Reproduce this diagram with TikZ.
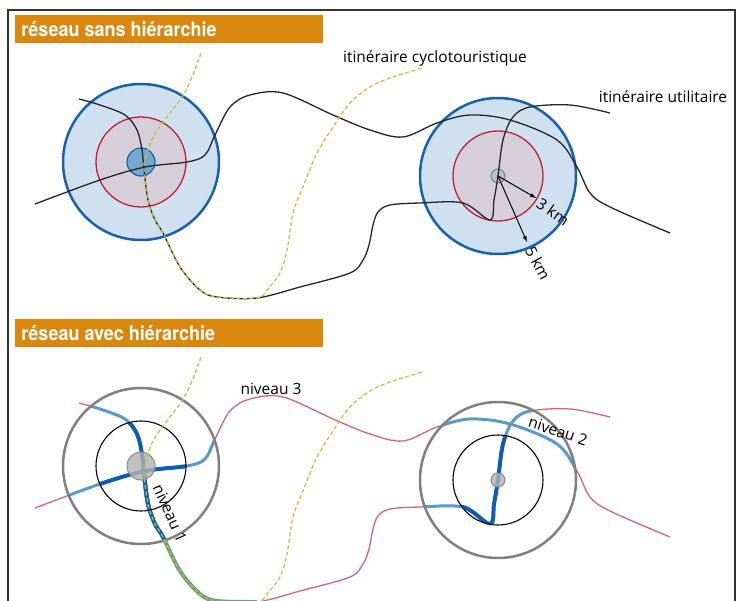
\documentclass[tikz,border=0pt]{standalone}
\usepackage{fontspec}
\setmainfont{Open Sans}
\newfontfamily\titelfont[FakeStretch=0.9]{TeX Gyre Heros}
\begin{document}
\begin{tikzpicture}[x=1pt,y=-1pt,>=latex,thick,
	titeltext/.style={anchor=west,text=white,inner sep=3pt,font=\titelfont\bfseries\fontsize{20}{20}\selectfont},
	beschriftung/.style={font=\fontsize{15.5}{16}\selectfont,inner sep=1pt},
	utilweg/.style={line width=1.3pt,black!85},
	radweg/.style={gelbgruen,line width=1.2pt,dash pattern=on 4pt off 2.5pt},
	stufedrei/.style={rosa,line width=1.3pt},
	stufezwei/.style={mittelblau,line width=3pt},
	stufeeins/.style={kraeftigblau,line width=4pt},
	gruenweg/.style={tuerkis,line width=4pt}]
\useasboundingbox (0,0) rectangle (739,601);

\definecolor{ocker}{rgb}{0.85,0.53,0.05}
\definecolor{dunkelblau}{rgb}{0.09,0.39,0.67}
\definecolor{hellblau}{rgb}{0.81,0.88,0.94}
\definecolor{rot}{rgb}{0.75,0.13,0.2}
\definecolor{mauve}{rgb}{0.84,0.81,0.85}
\definecolor{gelbgruen}{rgb}{0.72,0.77,0.23}
\definecolor{rosa}{rgb}{0.82,0.4,0.47}
\definecolor{mittelblau}{rgb}{0.36,0.6,0.78}
\definecolor{kraeftigblau}{rgb}{0.05,0.37,0.69}
\definecolor{tuerkis}{rgb}{0.43,0.62,0.5}

\def\wegA#1{
	\draw[#1] plot[smooth,tension=0.55] coordinates {(35,204) (100,180) (145,167) (187,162) (205,155) (215,135) (230,107) (250,95) (283,93) (333,115) (370,130) (403,137) (437,123) (470,115) (510,120) (557,140) (577,167) (590,193) (610,207) (670,233)};
}

\def\wegB#1{
	\draw[#1] plot[smooth,tension=0.55] coordinates {(79,99) (100,105) (125,115) (137,130) (142,150) (144,170) (148,200) (155,220) (163,233) (180,267) (200,290) (217,297) (257,298) (300,287) (350,273) (363,260) (369,245) (373,225) (378,212) (390,205) (420,203) (463,203) (490,220) (494,200) (498,176) (503,140) (513,117) (530,107) (570,105) (610,113)};
}

\def\wegBteil#1{
	\draw[#1] plot[smooth,tension=0.55] coordinates {(144,170) (148,200) (155,220) (163,233) (180,267) (200,290) (217,297) (257,298)};
}

\def\radroute#1{
	\draw[#1] plot[smooth,tension=0.55] coordinates {(201,53) (192,77) (182,97) (167,117) (153,137) (145,160) (144,170) (148,200) (155,220) (163,233) (180,267) (200,290) (217,297) (257,298) (267,290) (280,273) (287,250) (293,213) (303,187) (317,153) (333,127) (350,103) (370,87) (390,78) (422,68)};
}

% Rahmen
\draw[line width=1.5pt,black!80] (8,601) -- (8,10) -- (735,10) -- (735,601);

% oben: ohne Hierarchie
\fill[ocker] (15,15) rectangle (323,43);
\node[titeltext] (titeloben) at (18,29) {réseau sans hiérarchie};

\coordinate (zentrumL) at (141,162);
\coordinate (zentrumR) at (498,176);
\draw[dunkelblau,line width=2.5pt,fill=hellblau] (zentrumL) circle (78);
\draw[dunkelblau,line width=2.5pt,fill=hellblau] (zentrumR) circle (78);
\draw[rot,line width=1.3pt,fill=mauve] (zentrumL) circle (45);
\draw[rot,line width=1.3pt,fill=mauve] (zentrumR) circle (45);
\draw[dunkelblau,line width=1.2pt,fill=mittelblau!85] (zentrumL) circle (14);
\draw[black!45,line width=1.2pt,fill=black!25] (zentrumR) circle (7);

\wegA{utilweg}
\wegB{utilweg}
\radroute{radweg}

\coordinate (dreikm) at (536,198);
\coordinate (fuenfkm) at (527,242);
\draw[->,line width=1pt] (zentrumR) -- (dreikm);
\draw[->,line width=1pt] (zentrumR) -- (fuenfkm);
\node[beschriftung,rotate=-35] (dreilabel) at (553,212) {3 km};
\node[beschriftung,rotate=-62] (fuenflabel) at (538,263) {5 km};

\node[beschriftung] (cyclolabel) at (435,58) {itinéraire cyclotouristique};
\node[beschriftung] (utillabel) at (663,97) {itinéraire utilitaire};

% unten: mit Hierarchie
\fill[ocker] (15,319) rectangle (323,347);
\node[titeltext] (titelunten) at (18,333) {réseau avec hiérarchie};

\begin{scope}[shift={(0,304)}]
\coordinate (zentrumLu) at (141,162);
\coordinate (zentrumRu) at (498,176);

\wegA{stufedrei}
\wegB{stufedrei}
\begin{scope}
	\clip (zentrumLu) circle (78) (zentrumRu) circle (78);
	\wegA{stufezwei}
	\wegB{stufezwei}
\end{scope}
\begin{scope}
	\clip (zentrumLu) circle (45) (zentrumRu) circle (45);
	\wegA{stufeeins}
	\wegB{stufeeins}
\end{scope}
\wegBteil{gruenweg}
\begin{scope}
	\clip (zentrumLu) circle (78);
	\wegBteil{stufeeins}
\end{scope}

\draw[black!50,line width=2.5pt] (zentrumLu) circle (78);
\draw[black!50,line width=2.5pt] (zentrumRu) circle (78);
\draw[black,line width=1.1pt] (zentrumLu) circle (45);
\draw[black,line width=1.1pt] (zentrumRu) circle (45);
\draw[black!45,line width=1pt,fill=black!30,fill opacity=0.8] (zentrumLu) circle (14);
\draw[black!45,line width=1pt,fill=black!30,fill opacity=0.8] (zentrumRu) circle (7);

\radroute{radweg}

\node[beschriftung] (niveaudrei) at (271,85) {niveau 3};
\node[beschriftung,rotate=-18] (niveauzwei) at (558,127) {niveau 2};
\node[beschriftung,rotate=-66] (niveaueins) at (170,209) {niveau 1};
\end{scope}

\end{tikzpicture}
\end{document}
